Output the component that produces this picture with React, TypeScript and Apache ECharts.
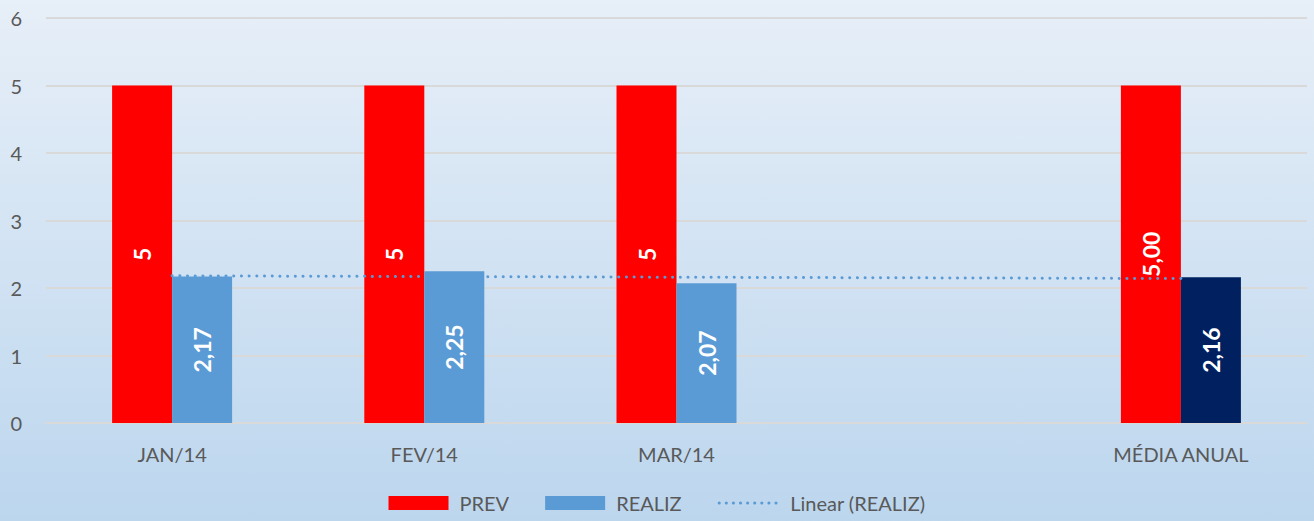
import React, { useEffect, useRef } from "react";
import * as echarts from "echarts";

const categories = ["JAN/14", "FEV/14", "MAR/14", "", "MÉDIA ANUAL"];
const prevValues: (number | null)[] = [5, 5, 5, null, 5];
const prevDecimals = [0, 0, 0, 0, 2];
const realizValues: (number | null)[] = [2.17, 2.25, 2.07, null, 2.16];
const trendValues: (number | null)[] = [2.18, null, null, null, 2.14];
const yTicks = { min: 0, max: 6, interval: 1 };

const FONT = "Lato, 'Noto Sans', sans-serif";
const TXT = "#595959";
const RED = "#ff0000";
const BLUE = "#5b9bd5";
const NAVY = "#002060";

const fmt = (v: number, d: number) => v.toFixed(d).replace(".", ",");

export default function App() {
  const ref = useRef<HTMLDivElement>(null);
  useEffect(() => {
    if (!ref.current) return;
    const chart = echarts.init(ref.current, null, { renderer: "svg" });
    const label = {
      show: true,
      position: "inside",
      rotate: 90,
      color: "#ffffff",
      fontWeight: "bold",
      fontSize: 23,
      fontFamily: FONT,
    };
    const dotted = { color: BLUE, width: 3, type: [0.1, 7.6], cap: "round" };
    chart.setOption({
      animation: false,
      backgroundColor: new echarts.graphic.LinearGradient(0, 0, 0, 1, [
        { offset: 0, color: "#e7eff8" },
        { offset: 1, color: "#bcd6ee" },
      ]),
      grid: { left: 46, right: 7, top: 18, bottom: 98, containLabel: false },
      legend: {
        bottom: 3,
        left: "center",
        itemWidth: 60,
        itemHeight: 14,
        itemGap: 36,
        textStyle: { color: TXT, fontSize: 20, fontFamily: FONT, padding: [0, 0, 0, 6] },
        data: [
          { name: "PREV", icon: "rect" },
          { name: "REALIZ", icon: "rect", itemStyle: { color: BLUE } },
          {
            name: "Linear (REALIZ)",
            itemStyle: { opacity: 0 },
            lineStyle: { ...dotted, width: 3, type: [0.1, 7] },
          },
        ],
      },
      xAxis: {
        type: "category",
        data: categories,
        axisLine: { show: true, lineStyle: { color: "#d9d9d9", width: 2 } },
        axisTick: { show: false },
        axisLabel: { color: TXT, fontSize: 20, fontFamily: FONT, margin: 21, interval: 0 },
      },
      yAxis: {
        type: "value",
        min: yTicks.min,
        max: yTicks.max,
        interval: yTicks.interval,
        axisLine: { show: false },
        axisTick: { show: false },
        axisLabel: { color: TXT, fontSize: 20, fontFamily: FONT, margin: 24 },
        splitLine: { lineStyle: { color: "#d9d9d9", width: 2 } },
      },
      series: [
        {
          name: "PREV",
          type: "bar",
          barWidth: 60,
          barGap: "0%",
          itemStyle: { color: RED },
          data: prevValues,
          label: {
            ...label,
            formatter: (p: any) => fmt(p.value, prevDecimals[p.dataIndex]),
          },
        },
        {
          name: "REALIZ",
          type: "bar",
          barWidth: 60,
          barGap: "0%",
          itemStyle: { color: BLUE },
          data: realizValues.map((v, i) =>
            i === realizValues.length - 1 ? { value: v, itemStyle: { color: NAVY } } : v
          ),
          label: {
            ...label,
            formatter: (p: any) => fmt(p.value, 2),
          },
        },
        {
          name: "Linear (REALIZ)",
          type: "line",
          data: trendValues,
          connectNulls: true,
          symbol: "none",
          z: 5,
          itemStyle: { color: BLUE },
          lineStyle: dotted,
        },
      ],
    });
    return () => chart.dispose();
  }, []);
  return (
    <div
      ref={ref}
      style={{ position: "fixed", left: 0, top: 0, width: 1314, height: 521 }}
    />
  );
}
